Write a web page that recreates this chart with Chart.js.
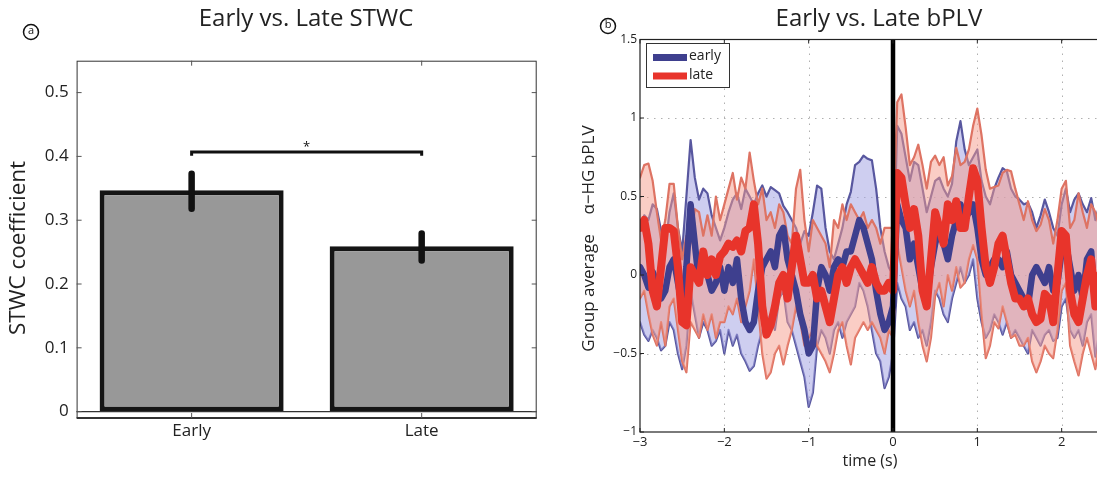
<!DOCTYPE html>
<html><head><meta charset="utf-8">
<script src="https://cdn.jsdelivr.net/npm/chart.js@4.4.0/dist/chart.umd.min.js"></script>
<style>
html,body{margin:0;padding:0;background:#fff;overflow:hidden;width:1097px;height:477px;}
#a{position:absolute;left:0;top:0;width:560px;height:477px;}
#b{position:absolute;left:560px;top:0;width:600px;height:477px;}
</style></head><body>
<div id="a"><canvas id="ca" width="560" height="477"></canvas></div>
<div id="b"><canvas id="cb" width="600" height="477"></canvas></div>
<script>
// ---------- Panel a data ----------
const barCategories = ['Early', 'Late'];
const barValues = [0.347, 0.259];
const barErrLow = [0.318, 0.237];
const barErrHigh = [0.373, 0.279];
const barYTicks = [0, 0.1, 0.2, 0.3, 0.4, 0.5];
const sigLevel = 0.407;
const sigMark = '*';

// ---------- Panel b data ----------
const timeSec = [-3,-2.95,-2.9,-2.85,-2.8,-2.75,-2.7,-2.65,-2.6,-2.55,-2.5,-2.45,-2.4,-2.35,-2.3,-2.25,-2.2,-2.15,-2.1,-2.05,-2,-1.95,-1.9,-1.85,-1.8,-1.75,-1.7,-1.65,-1.6,-1.55,-1.5,-1.45,-1.4,-1.35,-1.3,-1.25,-1.2,-1.15,-1.1,-1.05,-1,-0.95,-0.9,-0.85,-0.8,-0.75,-0.7,-0.65,-0.6,-0.55,-0.5,-0.45,-0.4,-0.35,-0.3,-0.25,-0.2,-0.15,-0.1,-0.05,0,0.05,0.1,0.15,0.2,0.25,0.3,0.35,0.4,0.45,0.5,0.55,0.6,0.65,0.7,0.75,0.8,0.85,0.9,0.95,1,1.05,1.1,1.15,1.2,1.25,1.3,1.35,1.4,1.45,1.5,1.55,1.6,1.65,1.7,1.75,1.8,1.85,1.9,1.95,2,2.05,2.1,2.15,2.2,2.25,2.3,2.35,2.4,2.45,2.5];

const earlyUpper = [
0.30,0.38,0.35,0.45,0.42,0.28,0.18,0.40,0.52,0.30,
0.15,0.50,0.86,0.62,0.48,0.55,0.52,0.38,0.30,0.22,
0.30,0.40,0.48,0.52,0.42,0.55,0.50,0.45,0.52,0.57,
0.50,0.56,0.54,0.52,0.44,0.40,0.35,0.30,0.20,0.28,
0.25,0.40,0.57,0.55,0.30,0.15,0.10,0.20,0.30,0.45,
0.53,0.70,0.72,0.76,0.74,0.73,0.55,0.30,0.15,0.05,
0.00,0.95,0.90,0.75,0.60,0.72,0.70,0.55,0.40,0.50,
0.60,0.62,0.55,0.50,0.58,0.85,0.98,0.80,0.70,0.75,
0.80,0.60,0.50,0.45,0.55,0.62,0.68,0.66,0.55,0.50,
0.48,0.45,0.46,0.40,0.30,0.38,0.48,0.40,0.30,0.25,
0.45,0.55,0.40,0.48,0.52,0.45,0.40,0.49,0.35,0.45,0.40];

const earlyMean = [
0.05,0.00,-0.08,0.02,-0.05,-0.15,-0.10,0.05,0.10,-0.05,
-0.20,0.05,0.45,0.20,-0.05,0.10,0.00,-0.10,-0.05,0.05,
-0.10,0.05,-0.05,0.10,-0.15,-0.30,-0.35,-0.30,-0.10,0.05,
0.10,0.15,0.05,0.25,0.30,0.10,0.00,-0.10,-0.25,-0.35,
-0.50,-0.45,-0.10,0.05,0.00,-0.10,0.05,0.10,0.05,0.15,
0.15,0.25,0.35,0.30,0.20,0.10,-0.10,-0.25,-0.35,-0.30,
-0.20,0.45,0.35,0.30,0.10,0.20,0.05,-0.10,-0.15,0.05,
0.20,0.30,0.20,0.10,0.25,0.35,0.45,0.35,0.40,0.45,
0.30,0.10,0.00,0.05,0.10,0.10,0.05,0.15,0.00,-0.05,
-0.10,-0.15,-0.20,0.00,0.05,0.00,-0.05,0.05,-0.10,-0.05,
0.15,0.20,0.05,-0.10,0.00,-0.15,0.10,0.15,-0.20,0.00,0.05];

const earlyLower = [
-0.30,-0.38,-0.42,-0.35,-0.40,-0.48,-0.45,-0.30,-0.35,-0.50,
-0.60,-0.45,-0.10,-0.25,-0.40,-0.30,-0.35,-0.45,-0.42,-0.35,
-0.50,-0.35,-0.45,-0.38,-0.50,-0.55,-0.61,-0.58,-0.45,-0.35,
-0.30,-0.25,-0.35,-0.15,-0.10,-0.30,-0.35,-0.45,-0.55,-0.65,
-0.84,-0.75,-0.45,-0.35,-0.40,-0.50,-0.35,-0.30,-0.40,-0.30,
-0.25,-0.20,-0.05,-0.10,-0.20,-0.35,-0.50,-0.55,-0.72,-0.65,
-0.50,-0.05,-0.15,-0.20,-0.35,-0.30,-0.40,-0.35,-0.45,-0.30,
-0.10,-0.15,-0.25,-0.30,-0.15,-0.05,0.05,-0.05,0.00,0.10,
-0.15,-0.30,-0.40,-0.35,-0.25,-0.30,-0.38,-0.30,-0.40,-0.35,
-0.40,-0.45,-0.50,-0.35,-0.40,-0.45,-0.38,-0.35,-0.42,-0.40,
-0.20,-0.15,-0.35,-0.40,-0.35,-0.45,-0.30,-0.25,-0.52,-0.35,-0.30];

const lateUpper = [
0.62,0.70,0.71,0.60,0.40,0.22,0.35,0.58,0.58,0.30,
0.10,0.25,0.20,0.42,0.40,0.25,0.38,0.25,0.50,0.35,
0.45,0.55,0.65,0.48,0.62,0.55,0.78,0.60,0.45,0.55,
0.35,0.40,0.30,0.45,0.40,0.25,0.20,0.55,0.67,0.35,
0.15,0.35,0.30,0.25,0.20,0.05,0.35,0.30,0.45,0.35,
0.45,0.40,0.35,0.40,0.30,0.35,0.30,0.20,0.30,0.30,
0.30,1.10,1.15,0.94,0.70,0.75,0.83,0.70,0.55,0.72,
0.76,0.70,0.75,0.57,0.63,0.81,0.70,0.72,0.80,0.95,
1.06,0.89,0.67,0.55,0.56,0.57,0.65,0.67,0.66,0.55,
0.45,0.35,0.47,0.35,0.28,0.32,0.42,0.35,0.20,0.35,
0.55,0.60,0.30,0.35,0.52,0.40,0.30,0.45,0.40,0.30,0.35];

const lateMean = [
0.30,0.35,0.20,-0.10,-0.20,0.05,0.30,0.30,0.28,0.05,
-0.30,-0.32,0.05,0.00,-0.05,0.15,0.00,0.10,0.00,0.12,
0.15,0.20,0.18,0.22,0.15,0.28,0.30,0.45,0.20,-0.20,
-0.38,-0.32,-0.20,-0.05,0.00,-0.15,0.05,0.25,0.10,-0.05,
-0.05,0.00,-0.15,-0.10,-0.20,-0.30,-0.15,0.00,0.05,-0.05,
0.05,0.10,0.05,0.00,-0.05,0.05,-0.05,-0.10,-0.10,-0.05,
-0.10,0.65,0.62,0.45,0.30,0.42,0.25,-0.10,-0.20,0.10,
0.40,0.30,0.20,0.45,0.35,0.47,0.30,0.30,0.50,0.68,
0.60,0.30,0.05,-0.05,0.05,0.20,0.25,0.10,-0.05,-0.15,
-0.15,-0.20,-0.15,-0.25,-0.30,-0.28,-0.12,-0.15,-0.30,0.00,
0.28,0.25,-0.10,-0.25,-0.30,-0.15,0.00,0.10,-0.20,0.00,0.05];

const lateLower = [
-0.15,-0.10,-0.25,-0.38,-0.45,-0.30,-0.45,-0.20,-0.15,-0.35,
-0.55,-0.62,-0.30,-0.35,-0.40,-0.25,-0.35,-0.25,-0.40,-0.30,
-0.30,-0.20,-0.25,-0.15,-0.30,-0.20,-0.10,0.10,-0.20,-0.50,
-0.66,-0.62,-0.50,-0.45,-0.57,-0.45,-0.35,-0.20,-0.30,-0.45,
-0.40,-0.35,-0.45,-0.50,-0.55,-0.62,-0.50,-0.35,-0.30,-0.45,
-0.57,-0.40,-0.35,-0.30,-0.35,-0.30,-0.35,-0.40,-0.50,-0.35,
-0.40,0.20,0.05,-0.10,-0.20,-0.10,-0.30,-0.45,-0.55,-0.40,
-0.13,-0.05,-0.20,0.00,-0.10,0.05,-0.08,-0.05,0.10,0.19,
0.10,-0.25,-0.53,-0.45,-0.30,-0.34,-0.20,-0.30,-0.40,-0.38,
-0.45,-0.45,-0.40,-0.55,-0.62,-0.55,-0.45,-0.50,-0.53,-0.35,
-0.10,-0.05,-0.45,-0.55,-0.64,-0.50,-0.40,-0.50,-0.60,-0.40,-0.35];

const lineXTicks = [-3, -2, -1, 0, 1, 2, 3];
const lineYTicks = [-1, -0.5, 0, 0.5, 1, 1.5];
const legendLabels = ['early', 'late'];

// ---------- styles ----------
const FONT = '"Open Sans", "DejaVu Sans", sans-serif';
const TXT = '#222';
const C_EARLY_MEAN = '#3e3f8e';
const C_EARLY_EDGE = '#58579f';
const C_EARLY_FILL = 'rgba(165,165,228,0.55)';
const C_LATE_MEAN = '#e8342b';
const C_LATE_EDGE = '#de7363';
const C_LATE_FILL = 'rgba(245,155,140,0.5)';

Chart.defaults.font.family = FONT;
Chart.defaults.color = TXT;
Chart.defaults.animation = false;

function minusify(v) { return String(v).replace('-', '\u2212'); }

function panelLabel(ctx, x, y, letter, r) {
  ctx.save();
  ctx.strokeStyle = '#111'; ctx.lineWidth = 1.5;
  ctx.beginPath(); ctx.arc(x, y, r, 0, Math.PI * 2); ctx.stroke();
  ctx.fillStyle = '#111'; ctx.font = (r * 1.4).toFixed(0) + 'px ' + FONT;
  ctx.textAlign = 'center'; ctx.textBaseline = 'middle';
  ctx.fillText(letter, x, y - 1);
  ctx.restore();
}

// ---------- Panel a ----------
const plugA = {
  id: 'plugA',
  afterDraw(chart) {
    const ctx = chart.ctx, a = chart.chartArea;
    const xs = chart.scales.x, ys = chart.scales.y;
    ctx.save();
    // zero line
    ctx.strokeStyle = '#333'; ctx.lineWidth = 1.2;
    const y0 = ys.getPixelForValue(0);
    ctx.beginPath(); ctx.moveTo(a.left, y0); ctx.lineTo(a.right, y0); ctx.stroke();
    // box
    ctx.strokeStyle = '#333'; ctx.lineWidth = 1;
    ctx.strokeRect(a.left + 0.5, a.top + 0.5, a.right - a.left - 1, a.bottom - a.top - 1);
    ctx.lineWidth = 1.8;
    ctx.beginPath(); ctx.moveTo(a.left, a.bottom); ctx.lineTo(a.right, a.bottom); ctx.stroke();
    // ticks
    ctx.lineWidth = 1; ctx.strokeStyle = '#555';
    barYTicks.forEach(v => {
      const y = ys.getPixelForValue(v);
      ctx.beginPath(); ctx.moveTo(a.left, y); ctx.lineTo(a.left + 5, y);
      ctx.moveTo(a.right, y); ctx.lineTo(a.right - 5, y); ctx.stroke();
    });
    // x category labels + ticks
    ctx.fillStyle = TXT; ctx.font = '17px ' + FONT; ctx.textAlign = 'center'; ctx.textBaseline = 'top';
    barCategories.forEach((c, i) => {
      const x = xs.getPixelForValue(i);
      ctx.beginPath(); ctx.moveTo(x, a.top); ctx.lineTo(x, a.top + 5);
      ctx.moveTo(x, a.bottom); ctx.lineTo(x, a.bottom - 5); ctx.stroke();
      ctx.fillText(c, x, a.bottom + 5);
    });
    // error bars
    ctx.strokeStyle = '#111'; ctx.lineWidth = 6.5; ctx.lineCap = 'round';
    barCategories.forEach((c, i) => {
      const x = xs.getPixelForValue(i);
      ctx.beginPath();
      ctx.moveTo(x, ys.getPixelForValue(barErrLow[i]));
      ctx.lineTo(x, ys.getPixelForValue(barErrHigh[i]));
      ctx.stroke();
    });
    // significance bracket
    ctx.lineCap = 'butt'; ctx.lineWidth = 3;
    const x1 = xs.getPixelForValue(0), x2 = xs.getPixelForValue(1);
    const yb = ys.getPixelForValue(sigLevel), yt = ys.getPixelForValue(sigLevel - 0.006);
    ctx.beginPath(); ctx.moveTo(x1, yt); ctx.lineTo(x1, yb); ctx.lineTo(x2, yb); ctx.lineTo(x2, yt); ctx.stroke();
    ctx.fillStyle = '#111'; ctx.font = '13px ' + FONT; ctx.textAlign = 'center'; ctx.textBaseline = 'middle';
    ctx.fillText(sigMark, (x1 + x2) / 2, ys.getPixelForValue(sigLevel + 0.012) + 3);
    // title
    ctx.fillStyle = TXT; ctx.font = '24px ' + FONT;
    ctx.fillText('Early vs. Late STWC', 306, 19);
    // y title
    ctx.save();
    ctx.translate(19, 248); ctx.rotate(-Math.PI / 2);
    ctx.font = '22.5px ' + FONT;
    ctx.fillText('STWC coefficient', 0, 0);
    ctx.restore();
    panelLabel(ctx, 31, 32, 'a', 7.5);
    ctx.restore();
  }
};

new Chart(document.getElementById('ca'), {
  type: 'bar',
  data: {
    labels: barCategories,
    datasets: [{
      data: barValues,
      backgroundColor: '#989898',
      borderColor: '#151515',
      borderWidth: 5,
      borderSkipped: false,
      barPercentage: 0.8,
      categoryPercentage: 1.0
    }]
  },
  options: {
    responsive: false,
    layout: { padding: { left: 0, top: 60.7, right: 23.3, bottom: 59 } },
    plugins: { legend: { display: false }, tooltip: { enabled: false }, title: { display: false } },
    scales: {
      x: {
        grid: { display: false, drawTicks: false }, border: { display: false },
        ticks: { display: false },
        afterFit(s) { s.height = 0; }
      },
      y: {
        min: -0.01, max: 0.55,
        grid: { display: false, drawTicks: false }, border: { display: false },
        afterBuildTicks(s) { s.ticks = barYTicks.map(v => ({ value: v })); },
        ticks: { font: { size: 17 }, color: TXT, padding: 8, callback: v => String(v) },
        afterFit(s) { s.width = 76.6; }
      }
    }
  },
  plugins: [plugA]
});

// ---------- Panel b ----------
function pts(arr) { return arr.map((v, i) => ({ x: timeSec[i], y: v })); }

const plugB = {
  id: 'plugB',
  beforeDatasetsDraw(chart) {
    const ctx = chart.ctx, a = chart.chartArea;
    const xs = chart.scales.x, ys = chart.scales.y;
    ctx.save();
    ctx.strokeStyle = '#b0b0b0'; ctx.lineWidth = 1; ctx.setLineDash([1.5, 5.5]);
    lineXTicks.forEach(v => {
      if (v === -3 || v === 3 || v === 0) return;
      const x = Math.round(xs.getPixelForValue(v)) + 0.5;
      ctx.beginPath(); ctx.moveTo(x, a.top); ctx.lineTo(x, a.bottom); ctx.stroke();
    });
    lineYTicks.forEach(v => {
      if (v === -1 || v === 1.5) return;
      const y = Math.round(ys.getPixelForValue(v)) + 0.5;
      ctx.beginPath(); ctx.moveTo(a.left, y); ctx.lineTo(a.right, y); ctx.stroke();
    });
    ctx.restore();
  },
  afterDatasetsDraw(chart) {
    const ctx = chart.ctx, a = chart.chartArea;
    const xs = chart.scales.x, ys = chart.scales.y;
    ctx.save();
    // event line
    const x0 = xs.getPixelForValue(0);
    ctx.strokeStyle = '#000'; ctx.lineWidth = 4.5;
    ctx.beginPath(); ctx.moveTo(x0, a.top); ctx.lineTo(x0, a.bottom); ctx.stroke();
    // box
    ctx.strokeStyle = '#222'; ctx.lineWidth = 1.2;
    ctx.strokeRect(a.left, a.top, a.right - a.left, a.bottom - a.top);
    // ticks + x labels
    ctx.lineWidth = 1;
    ctx.fillStyle = TXT; ctx.font = '13px ' + FONT; ctx.textAlign = 'center'; ctx.textBaseline = 'top';
    lineXTicks.forEach(v => {
      const x = xs.getPixelForValue(v);
      ctx.beginPath(); ctx.moveTo(x, a.top); ctx.lineTo(x, a.top + 4);
      ctx.moveTo(x, a.bottom); ctx.lineTo(x, a.bottom - 4); ctx.stroke();
      ctx.fillText(minusify(v), x, a.bottom + 4);
    });
    lineYTicks.forEach(v => {
      const y = ys.getPixelForValue(v);
      ctx.beginPath(); ctx.moveTo(a.left, y); ctx.lineTo(a.left + 4, y); ctx.stroke();
    });
    // legend
    const lx = 86, ly = 43, lw = 83, lh = 44;
    ctx.fillStyle = '#fff'; ctx.fillRect(lx, ly, lw, lh);
    ctx.strokeStyle = '#333'; ctx.lineWidth = 1;
    ctx.strokeRect(lx + 0.5, ly + 0.5, lw, lh);
    const cols = [C_EARLY_MEAN, C_LATE_MEAN];
    const rows = [57.5, 76];
    ctx.font = '14px ' + FONT; ctx.textAlign = 'left'; ctx.textBaseline = 'middle';
    legendLabels.forEach((lab, i) => {
      ctx.strokeStyle = cols[i]; ctx.lineWidth = 7;
      ctx.beginPath(); ctx.moveTo(lx + 7, rows[i]); ctx.lineTo(lx + 41, rows[i]); ctx.stroke();
      ctx.fillStyle = '#222';
      ctx.fillText(lab, lx + 43, rows[i] - 1);
    });
    ctx.restore();
  },
  afterDraw(chart) {
    const ctx = chart.ctx;
    ctx.save();
    ctx.fillStyle = TXT; ctx.textAlign = 'center'; ctx.textBaseline = 'middle';
    ctx.font = '24px ' + FONT;
    ctx.fillText('Early vs. Late bPLV', 319, 19);
    ctx.font = '16px ' + FONT;
    ctx.fillText('time (s)', 310, 461);
    ctx.save();
    ctx.translate(29, 0); ctx.rotate(-Math.PI / 2);
    ctx.font = '17px ' + FONT;
    ctx.fillText('Group average', -293, 0);
    ctx.fillText('\u03b1\u2212HG bPLV', -170, 0);
    ctx.restore();
    panelLabel(ctx, 48, 26, 'b', 7.5);
    ctx.restore();
  }
};

new Chart(document.getElementById('cb'), {
  type: 'line',
  data: {
    datasets: [
      { label: 'late', data: pts(lateMean), borderColor: C_LATE_MEAN, borderWidth: 8, fill: false },
      { label: 'early', data: pts(earlyMean), borderColor: C_EARLY_MEAN, borderWidth: 6.5, fill: false },
      { label: 'lateUpper', data: pts(lateUpper), borderColor: C_LATE_EDGE, borderWidth: 2.2, fill: '+1', backgroundColor: C_LATE_FILL },
      { label: 'lateLower', data: pts(lateLower), borderColor: C_LATE_EDGE, borderWidth: 2.2, fill: false },
      { label: 'earlyUpper', data: pts(earlyUpper), borderColor: C_EARLY_EDGE, borderWidth: 2.2, fill: '+1', backgroundColor: C_EARLY_FILL },
      { label: 'earlyLower', data: pts(earlyLower), borderColor: C_EARLY_EDGE, borderWidth: 2.2, fill: false }
    ]
  },
  options: {
    responsive: false,
    elements: { point: { radius: 0 }, line: { tension: 0, borderJoinStyle: 'round', borderCapStyle: 'round' } },
    layout: { padding: { left: 0, top: 39.5, right: 14, bottom: 45 } },
    plugins: { legend: { display: false }, tooltip: { enabled: false }, title: { display: false } },
    scales: {
      x: {
        type: 'linear', min: -3, max: 3,
        grid: { display: false, drawTicks: false }, border: { display: false },
        afterBuildTicks(s) { s.ticks = lineXTicks.map(v => ({ value: v })); },
        ticks: { display: false },
        afterFit(s) { s.height = 0; }
      },
      y: {
        min: -1, max: 1.5,
        grid: { display: false, drawTicks: false }, border: { display: false },
        afterBuildTicks(s) { s.ticks = lineYTicks.map(v => ({ value: v })); },
        ticks: { font: { size: 12 }, color: TXT, padding: 3, callback: v => minusify(v) },
        afterFit(s) { s.width = 80; }
      }
    }
  },
  plugins: [plugB]
});
</script>
</body></html>
